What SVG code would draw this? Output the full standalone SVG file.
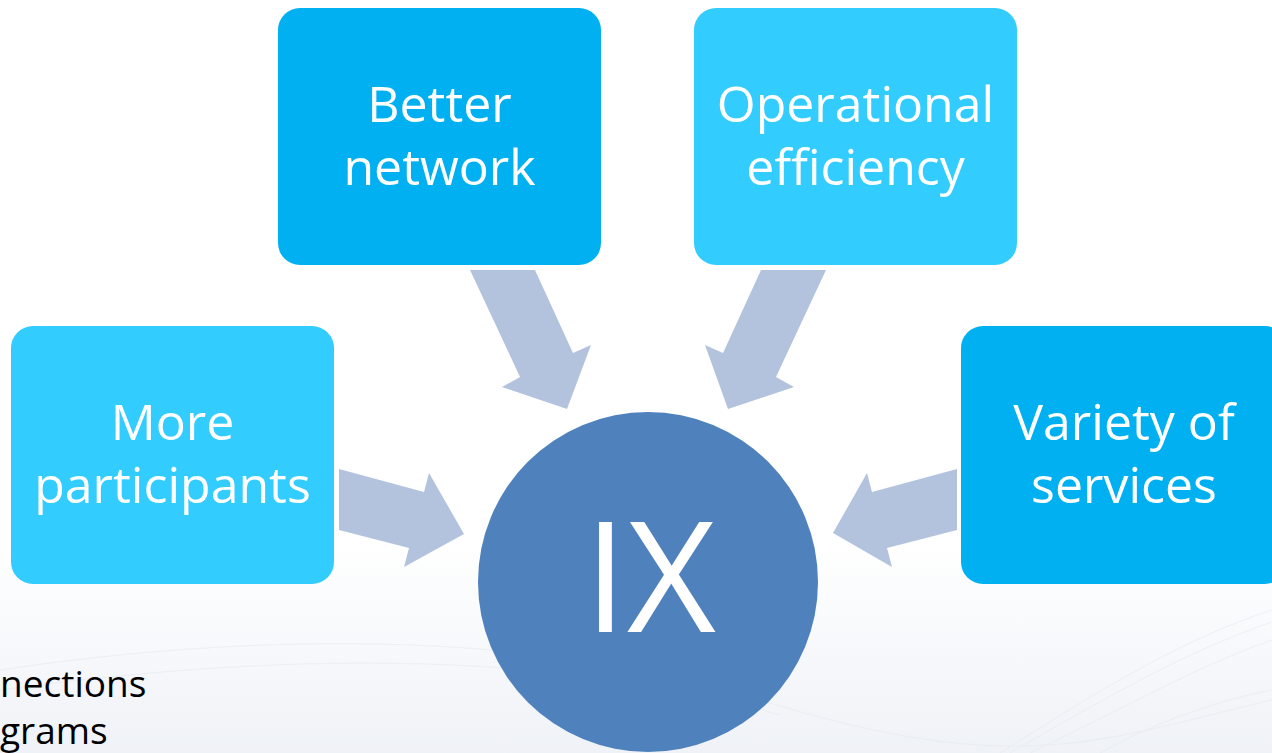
<svg xmlns="http://www.w3.org/2000/svg" width="1272" height="753" viewBox="0 0 1272 753">
<defs>
<style>
.box{stroke:none}
.dark{fill:#00B0F0}
.light{fill:#33CCFF}
.lbl{font-family:"Open Sans","Noto Sans",sans-serif;font-size:50px;fill:#FFFFFF;text-anchor:middle}
.arrow{fill:#B3C3DE}
.body{font-family:"Open Sans","Noto Sans",sans-serif;font-size:37px;fill:#000000}
</style>
<linearGradient id="bg" x1="0" y1="0" x2="0" y2="1">
<stop offset="0.72" stop-color="#FFFFFF"/>
<stop offset="1" stop-color="#EFF2F7"/>
</linearGradient>
</defs>
<rect width="1272" height="753" fill="url(#bg)"/>
<g id="background-waves" fill="none" stroke="#E6EAF1" stroke-width="1" opacity="0.6">
<path d="M0 670 C200 640 500 620 760 700 S1100 740 1272 700"/>
<path d="M0 690 C220 660 520 640 780 715"/>
<path d="M1000 753 C1100 690 1180 640 1272 610"/>
<path d="M1010 753 C1110 695 1190 650 1272 622"/>
<path d="M1030 753 C1130 705 1200 665 1272 640"/>
<path d="M1100 753 C1160 720 1220 700 1272 690"/>
</g>

<g id="connectors">
<polygon class="arrow" points="339,469 424,492 429,473 464,534 404,567 409,548 339,530"/>
<polygon class="arrow" points="470,270 535,270 573,353 591,345 567,409 502,387 520,377"/>
<polygon class="arrow" points="761,270 826,270 776,377 794,387 728,409 705,345 723,353"/>
<polygon class="arrow" points="957,469 957,530 887,548 892,567 833,533 867,473 872,492"/>
</g>

<g id="node-better-network">
<rect class="box dark" x="278" y="8" width="323" height="257" rx="22"/>
<text class="lbl" x="439.5" y="122">Better</text>
<text class="lbl" x="439.5" y="185">network</text>
</g>

<g id="node-operational-efficiency">
<rect class="box light" x="694" y="8" width="323" height="257" rx="22"/>
<text class="lbl" x="855.5" y="122">Operational</text>
<text class="lbl" x="855.5" y="185">efficiency</text>
</g>

<g id="node-more-participants">
<rect class="box light" x="11" y="326" width="323" height="258" rx="22"/>
<text class="lbl" x="172.5" y="440">More</text>
<text class="lbl" x="172.5" y="503">participants</text>
</g>

<g id="node-variety-of-services">
<rect class="box dark" x="961" y="326" width="326" height="258" rx="22"/>
<text class="lbl" x="1124" y="440">Variety of</text>
<text class="lbl" x="1124" y="503">services</text>
</g>

<g id="node-ix">
<circle cx="648" cy="582" r="170" fill="#4F81BD"/>
<text x="650" y="632" font-family="'Open Sans','Noto Sans',sans-serif" font-size="154" fill="#FFFFFF" text-anchor="middle">IX</text>
</g>

<g id="body-text">
<text class="body" x="0" y="697">nections</text>
<text class="body" x="0" y="744">grams</text>
</g>
</svg>
